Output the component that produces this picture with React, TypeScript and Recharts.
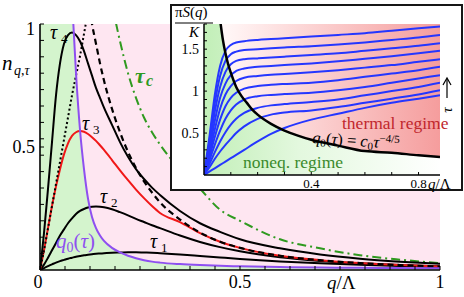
import React from "react";
import { ComposedChart, Line, Area, XAxis, YAxis, ReferenceArea } from "recharts";

const SERIF = "'Liberation Serif','DejaVu Serif','Times New Roman',serif";

// ---------------- main plot data ----------------
const qMain = [0, 0.01, 0.02, 0.03, 0.04, 0.05, 0.06, 0.07, 0.08, 0.09, 0.1, 0.11, 0.12, 0.13, 0.14, 0.15, 0.16, 0.18, 0.2, 0.22, 0.24, 0.26, 0.28, 0.3, 0.35, 0.4, 0.45, 0.5, 0.6, 0.7, 0.8, 0.9, 1.0];
const tau1 = [0, 0.008, 0.016, 0.023, 0.03, 0.036, 0.041, 0.046, 0.05, 0.054, 0.057, 0.06, 0.062, 0.064, 0.066, 0.067, 0.068, 0.07, 0.071, 0.072, 0.072, 0.071, 0.07, 0.068, 0.063, 0.057, 0.051, 0.045, 0.035, 0.027, 0.021, 0.016, 0.012];
const tau2 = [0, 0.022, 0.05, 0.08, 0.11, 0.14, 0.165, 0.19, 0.21, 0.228, 0.24, 0.248, 0.254, 0.257, 0.258, 0.257, 0.255, 0.247, 0.235, 0.222, 0.208, 0.195, 0.182, 0.17, 0.14, 0.114, 0.093, 0.076, 0.052, 0.037, 0.027, 0.02, 0.015];
const tau3 = [0, 0.08, 0.17, 0.26, 0.34, 0.41, 0.47, 0.515, 0.545, 0.56, 0.565, 0.562, 0.553, 0.54, 0.525, 0.507, 0.488, 0.447, 0.405, 0.365, 0.327, 0.292, 0.26, 0.232, 0.195, 0.15, 0.115, 0.09, 0.058, 0.04, 0.028, 0.02, 0.014];
const tau4 = [0, 0.15, 0.33, 0.52, 0.71, 0.84, 0.92, 0.955, 0.965, 0.955, 0.93, 0.89, 0.84, 0.79, 0.74, 0.7, 0.66, 0.59, 0.52, 0.46, 0.41, 0.37, 0.335, 0.305, 0.24, 0.19, 0.155, 0.125, 0.088, 0.063, 0.046, 0.034, 0.025];
const dashedEq = [null, null, null, null, null, null, null, null, null, null, null, null, 1.1, 1.0, 0.92, 0.84, 0.77, 0.655, 0.56, 0.48, 0.415, 0.36, 0.315, 0.275, 0.205, 0.152, 0.115, 0.09, 0.058, 0.04, 0.028, 0.02, 0.014];
const dottedIr = [0, 0.08, 0.17, 0.26, 0.35, 0.44, 0.53, 0.62, 0.71, 0.79, 0.87, 0.96, 1.05, null, null, null, null, null, null, null, null, null, null, null, null, null, null, null, null, null, null, null, null];
const tauC = [null, null, null, null, null, null, null, null, null, null, null, null, null, null, null, null, null, 1.08, 0.93, 0.8, 0.7, 0.62, 0.56, 0.51, 0.41, 0.33, 0.245, 0.2, 0.125, 0.088, 0.06, 0.042, 0.028];
const q0Main = [null, null, null, null, null, null, null, null, 1.1, 0.8, 0.57, 0.41, 0.29, 0.215, 0.17, 0.14, 0.118, 0.09, 0.072, 0.058, 0.048, 0.04, 0.034, 0.03, 0.024, 0.02, 0.017, 0.015, 0.012, 0.01, 0.009, 0.008, 0.007];

const mainXTicks = Array.from({ length: 17 }, (_, k) => k / 16);
const mainYTicks = [...Array.from({ length: 15 }, (_, k) => (k + 1) / 15), 0.5];
const mainXLabelVals = [0, 0.5, 1];
const mainXLabels = ["0", "0.5", "1"];
const mainYLabelVals = [0.5, 1];
const mainYLabels = ["0.5", "1"];

const mainRows = qMain.map((q, i) => ({
  q,
  t1: tau1[i],
  t2: tau2[i],
  t3: tau3[i],
  t4: tau4[i],
  eq: dashedEq[i],
  ir: dottedIr[i],
  tc: tauC[i],
  q0: q0Main[i],
  green: q0Main[i] == null ? 1 : Math.min(q0Main[i] as number, 1),
}));

// ---------------- inset data ----------------
const qInset = [0, 0.02, 0.04, 0.06, 0.08, 0.1, 0.12, 0.15, 0.2, 0.25, 0.3, 0.4, 0.5, 0.6, 0.7, 0.8, 0.88];
const s1 = [0, 0.45, 0.95, 1.3, 1.48, 1.55, 1.58, 1.595, 1.61, 1.62, 1.63, 1.65, 1.67, 1.69, 1.72, 1.75, 1.77];
const s2 = [0, 0.4, 0.85, 1.18, 1.36, 1.44, 1.47, 1.49, 1.5, 1.51, 1.52, 1.535, 1.555, 1.58, 1.61, 1.64, 1.67];
const s3 = [0, 0.35, 0.75, 1.05, 1.23, 1.32, 1.36, 1.38, 1.39, 1.4, 1.41, 1.43, 1.45, 1.48, 1.51, 1.54, 1.57];
const s4 = [0, 0.3, 0.64, 0.92, 1.09, 1.19, 1.24, 1.27, 1.29, 1.3, 1.31, 1.33, 1.355, 1.385, 1.415, 1.45, 1.48];
const s5 = [0, 0.25, 0.54, 0.79, 0.96, 1.06, 1.12, 1.16, 1.18, 1.195, 1.205, 1.225, 1.25, 1.28, 1.31, 1.35, 1.38];
const s6 = [0, 0.21, 0.45, 0.66, 0.82, 0.92, 0.98, 1.03, 1.06, 1.075, 1.085, 1.1, 1.13, 1.17, 1.21, 1.25, 1.29];
const s7 = [0, 0.17, 0.36, 0.53, 0.67, 0.77, 0.84, 0.9, 0.94, 0.955, 0.965, 0.98, 1.01, 1.05, 1.1, 1.15, 1.19];
const s8 = [0, 0.13, 0.27, 0.4, 0.51, 0.6, 0.67, 0.74, 0.8, 0.83, 0.845, 0.87, 0.9, 0.95, 1.0, 1.05, 1.1];
const s9 = [0, 0.09, 0.19, 0.28, 0.36, 0.43, 0.5, 0.58, 0.67, 0.72, 0.745, 0.77, 0.81, 0.86, 0.91, 0.96, 1.01];
const s10 = [0, 0.04, 0.08, 0.12, 0.16, 0.2, 0.24, 0.3, 0.4, 0.49, 0.56, 0.66, 0.73, 0.8, 0.86, 0.91, 0.95];
const spectra = [s1, s2, s3, s4, s5, s6, s7, s8, s9, s10];

const qBoundary = [0.06, 0.07, 0.08, 0.09, 0.1, 0.12, 0.14, 0.16, 0.18, 0.2, 0.25, 0.3, 0.35, 0.4, 0.5, 0.6, 0.7, 0.8, 0.88];
const boundary = [1.85, 1.62, 1.45, 1.32, 1.22, 1.05, 0.94, 0.86, 0.78, 0.72, 0.61, 0.53, 0.47, 0.42, 0.35, 0.285, 0.265, 0.235, 0.215];

const insetXTicks = [0.1, 0.2, 0.3, 0.4, 0.5, 0.6, 0.7, 0.8];
const insetYTicks = Array.from({ length: 18 }, (_, k) => (k + 1) / 10);
const insetXLabelVals = [0.4, 0.8];
const insetXLabels = ["0.4", "0.8"];
const insetYLabelVals = [0.5, 1, 1.5];
const insetYLabels = ["0.5", "1", "1.5"];
const INSET_XMAX = 0.88;
const INSET_YMAX = 1.8;

const boundaryData = qBoundary.map((q, i) => ({ q, v: boundary[i] }));
const noneqData = [{ q: 0, v: INSET_YMAX }, ...qBoundary.map((q, i) => ({ q, v: Math.min(boundary[i], INSET_YMAX) }))];

const near = (a: number, b: number) => Math.abs(a - b) < 1e-6;

function MainXTick(props: any) {
  const { x, y, payload } = props;
  const v = payload.value;
  const idx = mainXLabelVals.findIndex((t) => near(t, v));
  return (
    <g>
      <line x1={x} y1={y} x2={x} y2={y - 4} stroke="#000" strokeWidth={1} />
      {idx >= 0 && (
        <text x={x + (near(v, 0) ? -2 : 0)} y={y + 18} textAnchor="middle" fontFamily={SERIF} fontSize={18} fill="#000">
          {mainXLabels[idx]}
        </text>
      )}
    </g>
  );
}

function MainYTick(props: any) {
  const { x, y, payload } = props;
  const v = payload.value;
  const idx = mainYLabelVals.findIndex((t) => near(t, v));
  return (
    <g>
      <line x1={x} y1={y} x2={x + 4} y2={y} stroke="#000" strokeWidth={1} />
      {idx >= 0 && (
        <text x={x - 5} y={y + (near(v, 1) ? 11 : 6)} textAnchor="end" fontFamily={SERIF} fontSize={18} fill="#000">
          {mainYLabels[idx]}
        </text>
      )}
    </g>
  );
}

function InsetXTick(props: any) {
  const { x, y, payload } = props;
  const v = payload.value;
  const idx = insetXLabelVals.findIndex((t) => near(t, v));
  return (
    <g>
      <line x1={x} y1={y} x2={x} y2={y - 3} stroke="#000" strokeWidth={1} />
      {idx >= 0 && (
        <text x={x} y={y + 13} textAnchor="middle" fontFamily={SERIF} fontSize={13} fill="#000">
          {insetXLabels[idx]}
        </text>
      )}
    </g>
  );
}

function InsetYTick(props: any) {
  const { x, y, payload } = props;
  const v = payload.value;
  const idx = insetYLabelVals.findIndex((t) => near(t, v));
  return (
    <g>
      <line x1={x} y1={y} x2={x + 3} y2={y} stroke="#000" strokeWidth={1} />
      {idx >= 0 && (
        <text x={x - 5} y={y + 5} textAnchor="end" fontFamily={SERIF} fontSize={14} fill="#000">
          {insetYLabels[idx]}
        </text>
      )}
    </g>
  );
}

const PINK = "#fee6f1";
const GREEN = "#d4f4cd";
const PURPLE = "#8e4ff0";
const RED = "#f01818";
const DGREEN = "#2f9a1f";
const BLUE = "#2536ff";

export default function App() {
  return (
    <div style={{ position: "absolute", left: 0, top: 0, width: 464, height: 297, background: "#fff", overflow: "hidden" }}>
      {/* main chart */}
      <div style={{ position: "absolute", left: 0, top: 0 }}>
        <ComposedChart width={464} height={297} data={mainRows} margin={{ top: 24, right: 24, left: 0, bottom: 0 }}>
          <ReferenceArea x1={0} x2={1} y1={0} y2={1} fill={PINK} fillOpacity={1} stroke="none" />
          <Area dataKey="green" type="monotone" stroke="none" fill={GREEN} fillOpacity={1} isAnimationActive={false} baseValue={0} />
          <XAxis dataKey="q" type="number" domain={[0, 1]} allowDataOverflow ticks={mainXTicks} interval={0} tickSize={0} tickMargin={0} tickLine={false} tick={MainXTick} height={27} axisLine={{ stroke: "#000", strokeWidth: 1.6 }} />
          <YAxis type="number" domain={[0, 1]} allowDataOverflow ticks={mainYTicks} interval={0} tickSize={0} tickMargin={0} tickLine={false} tick={MainYTick} width={40} axisLine={{ stroke: "#000", strokeWidth: 1.6 }} />
          <Line dataKey="tc" type="monotone" stroke={DGREEN} strokeWidth={2} strokeDasharray="9 4 2 4" dot={false} activeDot={false} isAnimationActive={false} />
          <Line dataKey="t1" type="monotone" stroke="#000" strokeWidth={2} dot={false} activeDot={false} isAnimationActive={false} />
          <Line dataKey="t2" type="monotone" stroke="#000" strokeWidth={2} dot={false} activeDot={false} isAnimationActive={false} />
          <Line dataKey="t3" type="monotone" stroke={RED} strokeWidth={2} dot={false} activeDot={false} isAnimationActive={false} />
          <Line dataKey="ir" type="monotone" stroke="#000" strokeWidth={2} strokeDasharray="2 2.5" dot={false} activeDot={false} isAnimationActive={false} />
          <Line dataKey="t4" type="monotone" stroke="#000" strokeWidth={2} dot={false} activeDot={false} isAnimationActive={false} />
          <Line dataKey="eq" type="monotone" stroke="#000" strokeWidth={2.2} strokeDasharray="6 4" dot={false} activeDot={false} isAnimationActive={false} />
          <Line dataKey="q0" type="monotone" stroke={PURPLE} strokeWidth={2} dot={false} activeDot={false} isAnimationActive={false} />
        </ComposedChart>
      </div>

      {/* inset */}
      <div style={{ position: "absolute", left: 170, top: 4, width: 293, height: 187, background: "#fff" }}>
        <ComposedChart width={293} height={187} margin={{ top: 20, right: 23, left: 0, bottom: 0 }}>
          <defs>
            <linearGradient id="thermalGrad" x1="0" y1="0" x2="1" y2="0">
              <stop offset="0%" stopColor="#ffffff" />
              <stop offset="15%" stopColor="#fff1f1" />
              <stop offset="100%" stopColor="#f59d9d" />
            </linearGradient>
            <linearGradient id="noneqGrad" x1="0" y1="0" x2="1" y2="0">
              <stop offset="0%" stopColor="#c2efb8" />
              <stop offset="40%" stopColor="#e3f8de" />
              <stop offset="100%" stopColor="#ffffff" />
            </linearGradient>
          </defs>
          <ReferenceArea x1={0} x2={INSET_XMAX} y1={0} y2={INSET_YMAX} fill="url(#thermalGrad)" fillOpacity={1} stroke="none" />
          <Area data={noneqData} dataKey="v" type="monotone" stroke="none" fill="url(#noneqGrad)" fillOpacity={1} isAnimationActive={false} baseValue={0} />
          <XAxis dataKey="q" type="number" domain={[0, INSET_XMAX]} allowDataOverflow ticks={insetXTicks} interval={0} tickSize={0} tickMargin={0} tickLine={false} tick={InsetXTick} height={16} axisLine={{ stroke: "#000", strokeWidth: 1.5 }} />
          <YAxis type="number" domain={[0, INSET_YMAX]} allowDataOverflow ticks={insetYTicks} interval={0} tickSize={0} tickMargin={0} tickLine={false} tick={InsetYTick} width={34} axisLine={{ stroke: "#000", strokeWidth: 1.5 }} />
          {spectra.map((s, k) => (
            <Line key={k} data={qInset.map((q, i) => ({ q, v: s[i] }))} dataKey="v" type="monotone" stroke={BLUE} strokeWidth={2} dot={false} activeDot={false} isAnimationActive={false} />
          ))}
          <Line data={boundaryData} dataKey="v" type="monotone" stroke="#000" strokeWidth={2.5} dot={false} activeDot={false} isAnimationActive={false} />
        </ComposedChart>
      </div>
      <div style={{ position: "absolute", left: 170, top: 4, width: 293, height: 187, border: "2px solid #161616", boxSizing: "border-box" }} />

      {/* text overlay */}
      <svg width={464} height={297} style={{ position: "absolute", left: 0, top: 0, pointerEvents: "none" }} fontFamily={SERIF}>
        {/* main y label */}
        <text x={2} y={70} fontSize={21} fontStyle="italic" fill="#000">n</text>
        <text x={14} y={75} fontSize={14} fill="#000">
          <tspan fontStyle="italic">q</tspan>,<tspan fontStyle="italic">τ</tspan>
        </text>
        {/* main x label */}
        <text x={327} y={289} fontSize={19} fill="#000">
          <tspan fontStyle="italic">q</tspan>/Λ
        </text>
        {/* curve labels */}
        <text x={50} y={39} fontSize={20} fontStyle="italic" fill="#000">τ</text>
        <text x={61} y={43} fontSize={13} fill="#000">4</text>
        <text x={82} y={130} fontSize={20} fontStyle="italic" fill="#000">τ</text>
        <text x={93} y={134} fontSize={13} fill="#000">3</text>
        <text x={100} y={203} fontSize={20} fontStyle="italic" fill="#000">τ</text>
        <text x={111} y={207} fontSize={13} fill="#000">2</text>
        <text x={150} y={248} fontSize={20} fontStyle="italic" fill="#000">τ</text>
        <text x={161} y={252} fontSize={13} fill="#000">1</text>
        <text x={56} y={248} fontSize={21} fill={PURPLE}>
          <tspan fontStyle="italic">q</tspan>
          <tspan fontSize={14} dy={4}>0</tspan>
          <tspan dy={-4}>(</tspan>
          <tspan fontStyle="italic">τ</tspan>
          <tspan>)</tspan>
        </text>
        <text x={135} y={83} fontSize={22} fontStyle="italic" fontWeight="bold" fill={DGREEN}>τ</text>
        <text x={146} y={86} fontSize={16} fontStyle="italic" fontWeight="bold" fill={DGREEN}>c</text>

        {/* inset y label */}
        <text x={175} y={17} fontSize={15} fill="#000">
          π<tspan fontStyle="italic">S</tspan>(<tspan fontStyle="italic">q</tspan>)
        </text>
        <line x1={175} y1={23} x2={213} y2={23} stroke="#000" strokeWidth={1} />
        <text x={194} y={37} fontSize={15} fontStyle="italic" textAnchor="middle" fill="#000">K</text>
        {/* inset x label */}
        <text x={428} y={189} fontSize={15} fill="#000">
          <tspan fontStyle="italic">q</tspan>/Λ
        </text>
        {/* arrow tau */}
        <line x1={447} y1={98} x2={447} y2={79} stroke="#000" strokeWidth={1.2} />
        <polyline points="443,85 447,78 451,85" fill="none" stroke="#000" strokeWidth={1.2} />
        <text x={447} y={110} fontSize={15} fontStyle="italic" textAnchor="middle" dominantBaseline="central" transform="rotate(-90 447 110)" fill="#000">τ</text>
        {/* regime labels */}
        <text x={342} y={129} fontSize={17.5} fill="#c1272d">thermal regime</text>
        <text x={243} y={168} fontSize={17.5} fill="#3b8a2c">noneq. regime</text>
        <text x={312} y={143} fontSize={16.5} fill="#000" transform="rotate(4 312 143)">
          <tspan fontStyle="italic">q</tspan>
          <tspan fontSize={11} dy={3}>0</tspan>
          <tspan dy={-3}>(</tspan>
          <tspan fontStyle="italic">τ</tspan>
          <tspan>) = </tspan>
          <tspan fontStyle="italic">c</tspan>
          <tspan fontSize={11} dy={3}>0</tspan>
          <tspan fontStyle="italic" dy={-3}>τ</tspan>
          <tspan fontSize={11} dy={-6}>−4/5</tspan>
        </text>
      </svg>
    </div>
  );
}
